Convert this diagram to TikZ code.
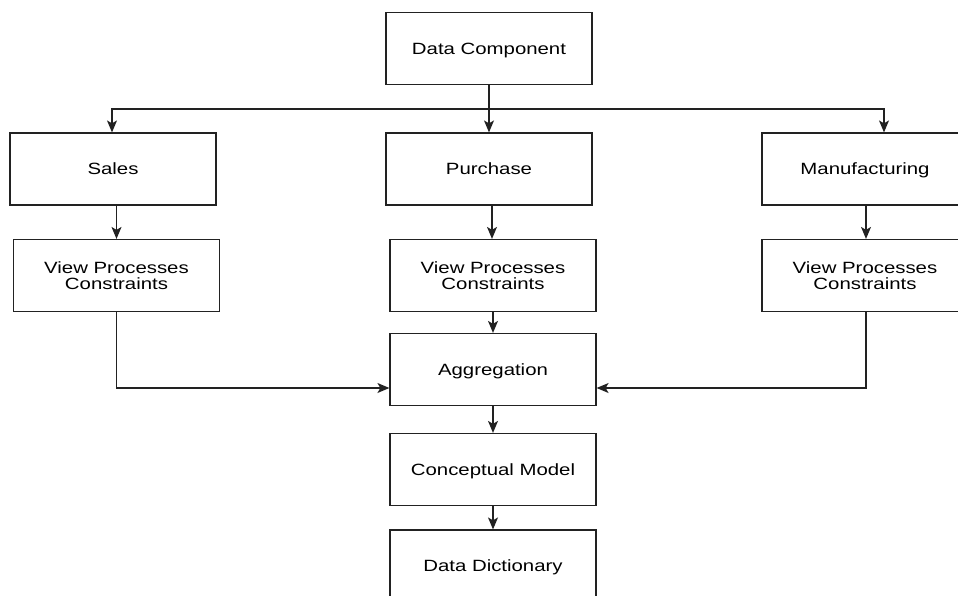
\documentclass[tikz,border=0pt]{standalone}
\usepackage{fontspec}
\setmainfont[FakeStretch=1.25]{Liberation Sans}
\usetikzlibrary{arrows.meta,calc}
\definecolor{linec}{HTML}{222222}
\tikzset{
  box/.style={draw=linec, line width=1.2pt, minimum width=206pt, minimum height=72pt,
    inner sep=0pt, align=center, text=black,
    font=\fontsize{16.3pt}{16pt}\selectfont},
  one/.style={box, text height=11.7pt, text depth=0pt},
  arr/.style={draw=linec, line width=1.2pt, -{Stealth[length=12pt,width=10pt,inset=3pt]}},
  ln/.style={draw=linec, line width=1.2pt}
}
\begin{document}
\begin{tikzpicture}[x=1pt,y=-1pt]
\useasboundingbox (0,0) rectangle (958,595);
\clip (0,0) rectangle (958,595);
\fill[white] (0,0) rectangle (958,595);
\node[one] (dc) at (489,48.5) {Data Component};
\node[one] (sales) at (113,169) {Sales};
\node[one] (purch) at (489,169) {Purchase};
\node[one] (manu) at (865,169) {Manufacturing};
\node[box] (vp1) at (116.5,275.5) {View Processes\\Constraints};
\node[box] (vp2) at (493,275.5) {View Processes\\Constraints};
\node[box] (vp3) at (865,275.5) {View Processes\\Constraints};
\node[one] (agg) at (493,369.5) {Aggregation};
\node[one] (cm) at (493,469.5) {Conceptual Model};
\node[one] (dd) at (493,566) {Data Dictionary};
\coordinate (j) at (489,109);
\draw[arr] (dc.south) -- (purch.north);
\draw[arr] (j) -| ([xshift=-1pt]sales.north);
\draw[arr] (j) -| ([xshift=19pt]manu.north);
\draw[arr] (vp1.north |- sales.south) -- (vp1.north);
\draw[arr] ([xshift=3pt]purch.south) -- ([xshift=-1pt]vp2.north);
\draw[arr] ([xshift=1pt]manu.south) -- ([xshift=1pt]vp3.north);
\draw[arr] (vp2.south) -- (agg.north);
\draw[arr] (vp1.south) |- ([yshift=-18.5pt]agg.west);
\draw[arr] ([xshift=1pt]vp3.south) |- ([yshift=-18.5pt]agg.east);
\draw[arr] (agg.south) -- (cm.north);
\draw[arr] (cm.south) -- (dd.north);
\end{tikzpicture}
\end{document}
